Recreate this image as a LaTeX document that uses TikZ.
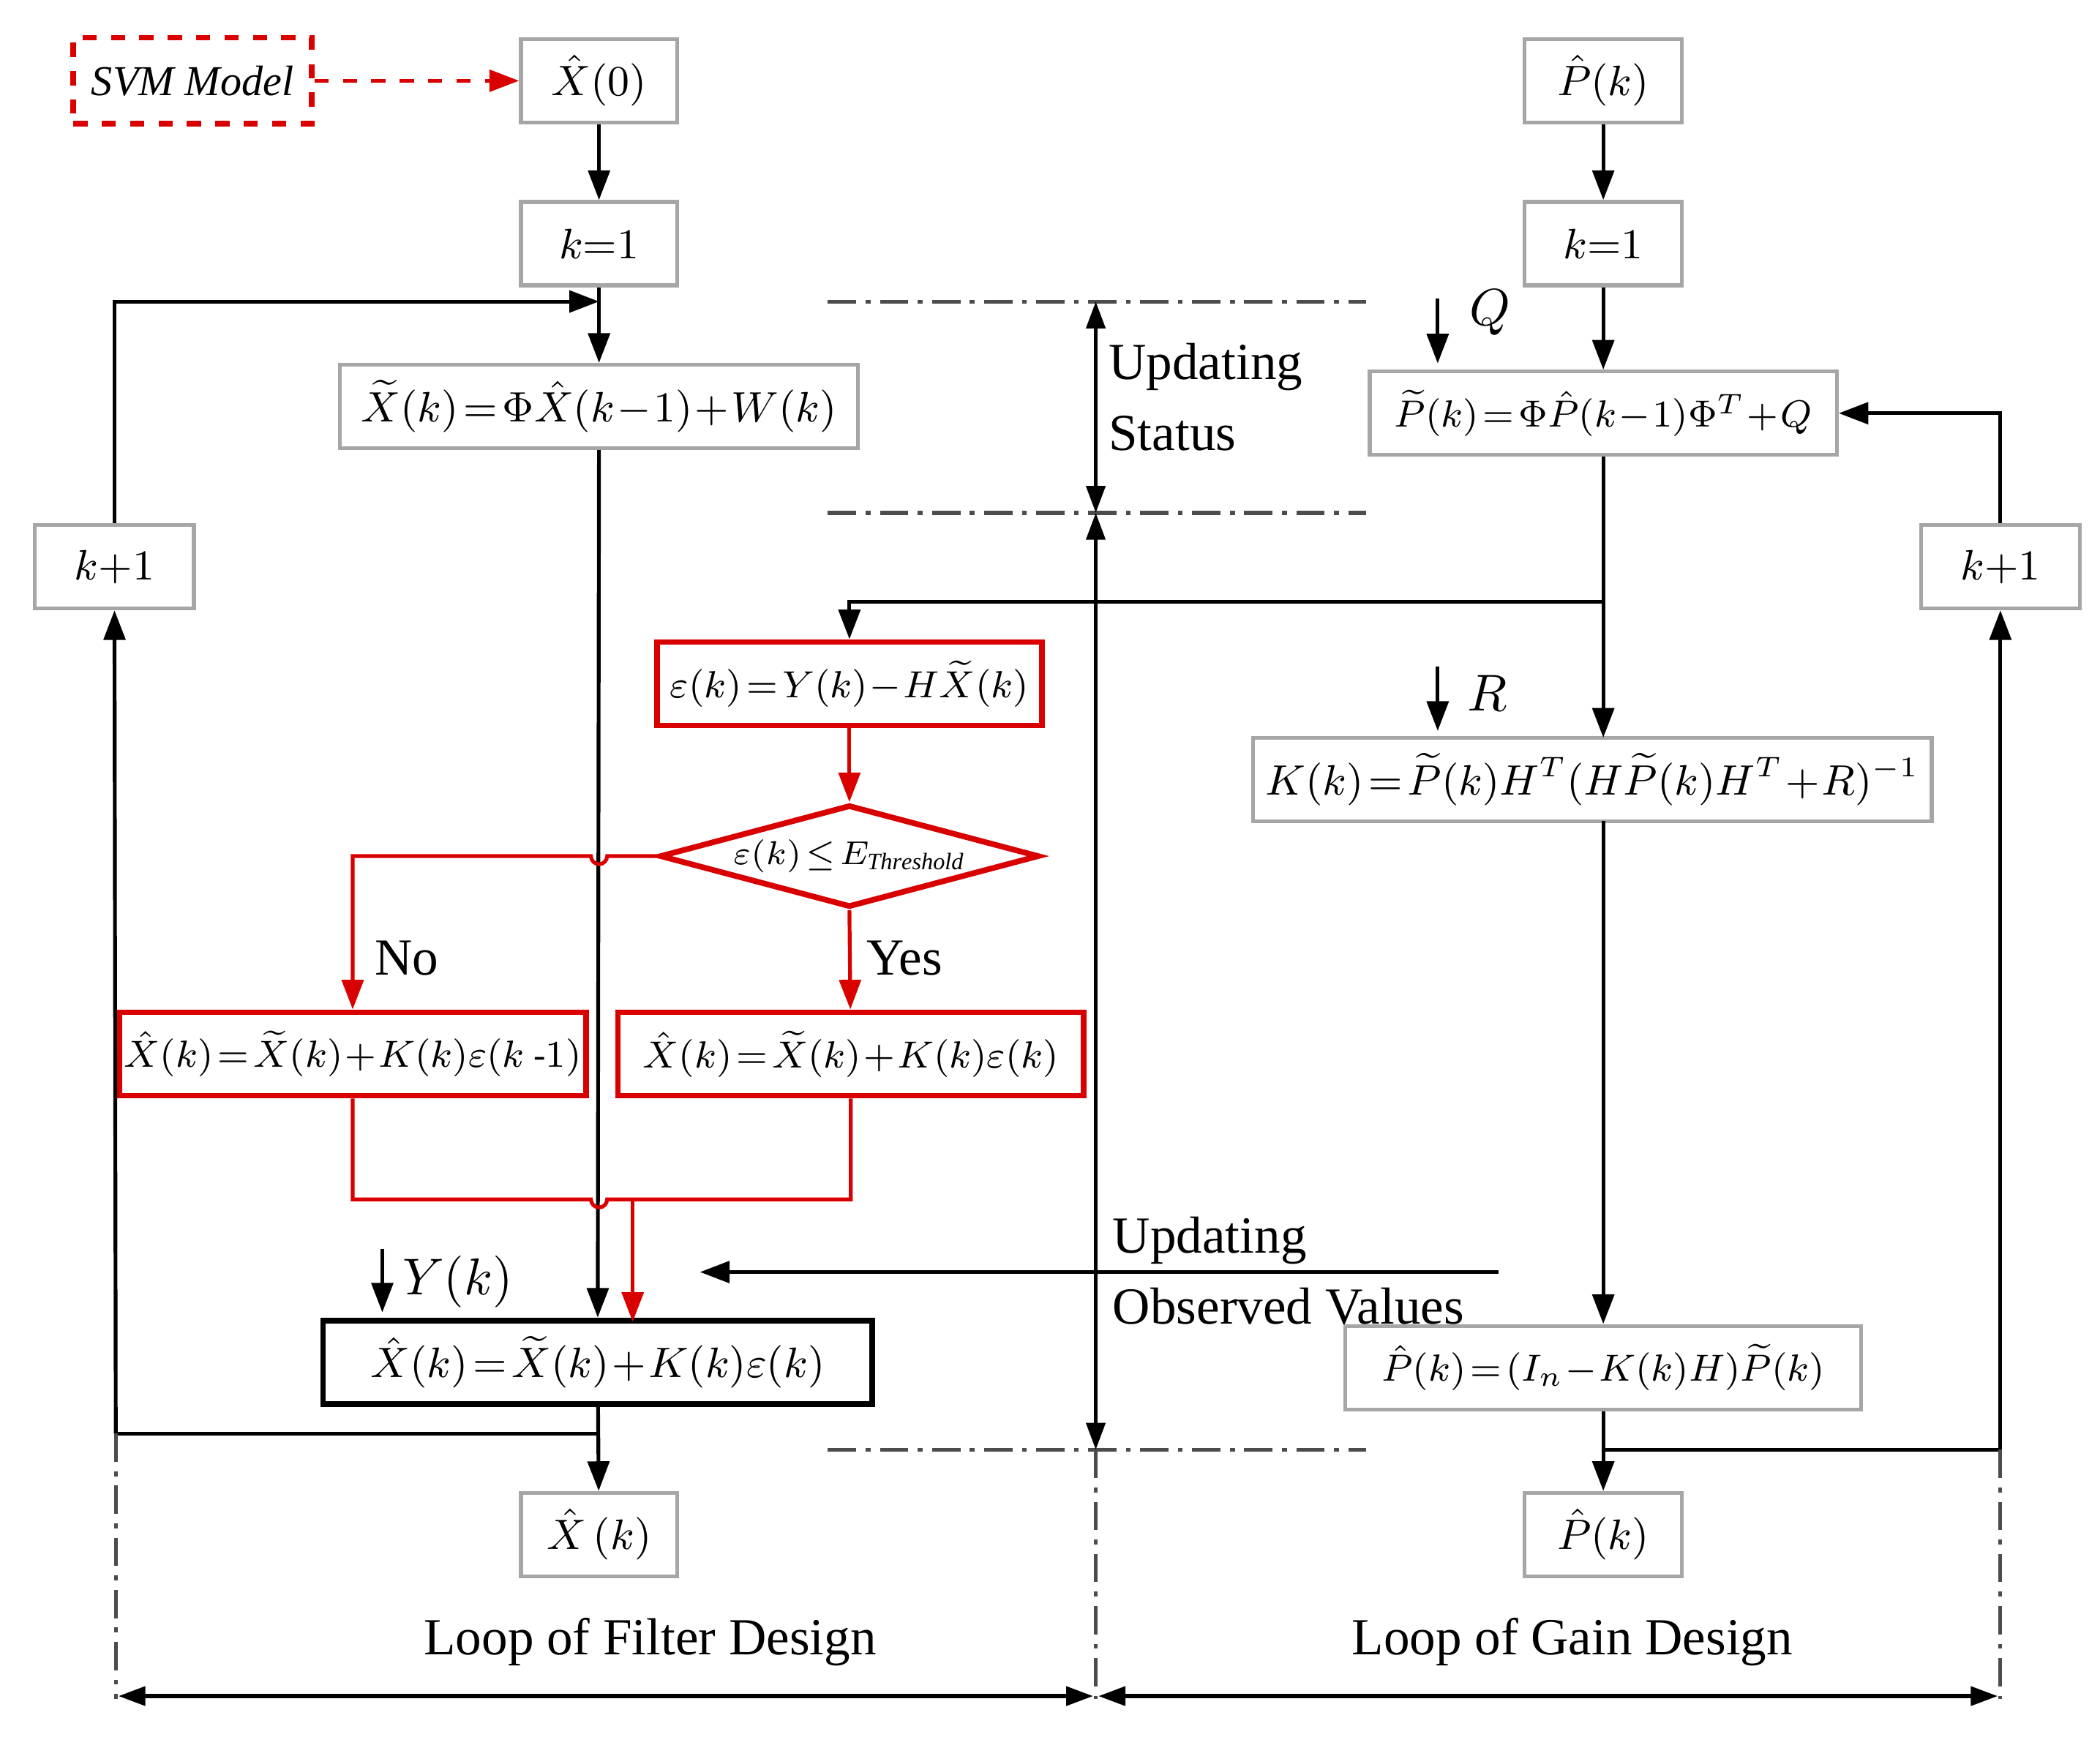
\documentclass[tikz,border=0pt]{standalone}
\usepackage{amsmath}
\usepackage{fontspec}
\setmainfont{Liberation Serif}
\usetikzlibrary{shapes.geometric,arrows.meta}
\begin{document}
\medmuskip=1mu \thickmuskip=2mu
\begin{tikzpicture}[x=0.1mm,y=-0.1mm,
  box/.style={draw=black!35,thick,minimum height=6.2mm,inner sep=1pt,font=\fontsize{9.5}{11}\selectfont},
  rbox/.style={draw=red!85!black,very thick,minimum height=6.2mm,inner sep=1pt,font=\fontsize{7.6}{9}\selectfont},
  arr/.style={-{Triangle[length=2.2mm,width=1.6mm]},thick},
  rarr/.style={-{Triangle[length=2.2mm,width=1.6mm]},thick,red!85!black},
  dd/.style={thick,black!70,dash pattern=on 6pt off 2pt on 1pt off 2pt},
  lab/.style={font=\fontsize{11}{13}\selectfont,inner sep=0pt}]
\useasboundingbox (0,0) rectangle (1560,1290);
% left column
\node[draw=red!85!black,dashed,very thick,minimum width=17.7mm,minimum height=6.4mm,font=\itshape\fontsize{9}{11}\selectfont] (svm) at (143,60) {SVM Model};
\node[box,minimum width=11.6mm] (x0) at (445,60) {$\hat X(0)$};
\node[box,minimum width=11.6mm] (k1) at (445,181) {$k{=}1$};
\node[box,minimum width=38.5mm,font=\fontsize{9}{11}\selectfont] (xt) at (445,302) {$\widetilde X(k)=\Phi\hat X(k-1)+W(k)$};
\node[box,minimum width=11.8mm] (kl) at (85,421) {$k{+}1$};
\node[rbox,minimum width=28.6mm,font=\fontsize{8}{10}\selectfont] (eps) at (631,508) {$\varepsilon(k)=Y(k)-H\widetilde X(k)$};
\node[diamond,aspect=3.7,draw=red!85!black,very thick,inner sep=0pt,minimum width=28.2mm,minimum height=7.6mm,font=\fontsize{7}{9}\selectfont] (dia) at (631,636) {$\varepsilon(k)\le E_{\mathit{Threshold}}$};
\node[rbox,minimum width=34.7mm] (no) at (262,783) {$\hat X(k)=\widetilde X(k)+K(k)\varepsilon(k\text{ -}1)$};
\node[rbox,minimum width=34.6mm,font=\fontsize{8.2}{10}\selectfont] (yes) at (632,783) {$\hat X(k)=\widetilde X(k)+K(k)\varepsilon(k)$};
\node[draw,very thick,minimum width=40.8mm,minimum height=6.1mm,font=\fontsize{9.5}{11}\selectfont] (xf) at (444,1012) {$\hat X(k)=\widetilde X(k)+K(k)\varepsilon(k)$};
\node[box,minimum width=11.6mm] (xo) at (445,1140) {$\hat X\,(k)$};
% right column
\node[box,minimum width=11.7mm] (p0) at (1191,60) {$\hat P(k)$};
\node[box,minimum width=11.7mm] (k1r) at (1191,181) {$k{=}1$};
\node[box,minimum width=34.7mm,font=\fontsize{8}{10}\selectfont] (pt) at (1191,307) {$\widetilde P(k)=\Phi\hat P(k-1)\Phi^T+Q$};
\node[box,minimum width=11.8mm] (kr) at (1486,421) {$k{+}1$};
\node[box,minimum width=50.4mm,font=\fontsize{9}{11}\selectfont] (kk) at (1183,579) {$K(k)=\widetilde P(k)H^T(H\widetilde P(k)H^T+R)^{-1}$};
\node[box,minimum width=38.3mm,font=\fontsize{8}{10}\selectfont] (pu) at (1191,1016) {$\hat P(k)=(I_n-K(k)H)\widetilde P(k)$};
\node[box,minimum width=11.7mm] (po) at (1191,1140) {$\hat P(k)$};
% labels
\node[lab,anchor=west,align=left] (us) at (823,295) {Updating\\[2pt]Status};
\node[lab,anchor=west,align=left] (uo) at (826,944) {Updating\\[2pt]Observed Values};
\node[lab] (lf) at (483,1220) {Loop of Filter Design};
\node[lab] (lg) at (1168,1220) {Loop of Gain Design};
\node[lab] (nol) at (302,712) {No};
\node[lab] (yesl) at (672,712) {Yes};
\node[lab] (ql) at (1107,232) {$Q$};
\node[lab] (rl) at (1105,515) {$R$};
\node[lab] (yl) at (340,952) {$Y(k)$};
% coordinates
\coordinate (qa) at (1068,222); \coordinate (qb) at (1068,270);
\coordinate (ra) at (1068,495); \coordinate (rb) at (1068,543);
\coordinate (ya) at (284,928); \coordinate (yb) at (284,975);
\coordinate (oa) at (1113,945); \coordinate (ob) at (520,945);
% black connectors
\draw[arr,red!85!black,dashed] (svm) -- (x0);
\draw[arr] (x0) -- (k1);
\draw[arr] (k1) -- (xt);
\draw[arr] (xt) -- (xf);
\draw[arr] (xf) -- (xo);
\draw[thick] (445,1065) -- (86,1065);
\draw[arr] (86,1065) -- (kl);
\draw[arr] (kl) |- (445,224);
\draw[arr] (p0) -- (k1r);
\draw[arr] (k1r) -- (pt);
\draw[arr] (pt) -- (1191,548);
\draw[arr] (1191,447) -| (eps);
\draw[arr] (1191,610) -- (pu);
\draw[arr] (pu) -- (po);
\draw[thick] (1191,1077) -- (1486,1077);
\draw[arr] (1486,1077) -- (kr);
\draw[arr] (kr) |- (pt);
\draw[arr] (qa) -- (qb);
\draw[arr] (ra) -- (rb);
\draw[arr] (ya) -- (yb);
\draw[arr] (oa) -- (ob);
% red connectors
\draw[rarr] (eps) -- (dia);
\draw[rarr] (dia.south) -- (yes);
\draw[rarr] (dia.west) -- (451,636) arc (0:180:6) -- (262,636) -- (no);
\draw[thick,red!85!black] (no) -- (262,891) -- (439,891) arc (180:0:6) -- (632,891) -- (yes);
\draw[rarr] (470,891) -- (470,982);
% dimension lines
\draw[dd] (615,224) -- (1015,224);
\draw[dd] (615,381) -- (1015,381);
\draw[dd] (615,1077) -- (1015,1077);
\draw[{Triangle[length=2mm,width=1.4mm]}-{Triangle[length=2mm,width=1.4mm]},thick] (814,224) -- (814,381);
\draw[{Triangle[length=2mm,width=1.4mm]}-{Triangle[length=2mm,width=1.4mm]},thick] (814,381) -- (814,1077);
\draw[dd] (814,1077) -- (814,1262);
\draw[dd] (86,1065) -- (86,1262);
\draw[dd] (1486,1077) -- (1486,1262);
\draw[{Triangle[length=2mm,width=1.4mm]}-{Triangle[length=2mm,width=1.4mm]},thick] (88,1260) -- (812,1260);
\draw[{Triangle[length=2mm,width=1.4mm]}-{Triangle[length=2mm,width=1.4mm]},thick] (816,1260) -- (1484,1260);
\end{tikzpicture}
\end{document}
